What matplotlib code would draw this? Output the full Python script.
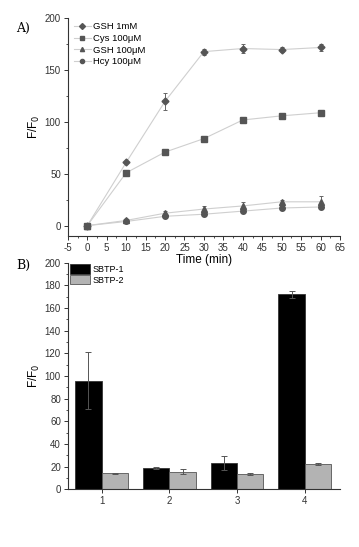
import matplotlib
matplotlib.use("Agg")
import matplotlib.pyplot as plt
from matplotlib.ticker import MultipleLocator
import numpy as np

# panel A: F/F0 over time
time_min = [0, 10, 20, 30, 40, 50, 60]
gsh_1mm = [0, 61, 120, 168, 171, 170, 172]
gsh_1mm_err = [2, 1, 8, 3, 4, 2, 3]
cys_100 = [0, 51, 71, 84, 102, 106, 109]
cys_100_err = [1, 1, 1, 1, 1, 1, 1]
gsh_100 = [0, 5, 12, 16, 19, 23, 23]
gsh_100_err = [1, 1, 2, 3, 4, 2, 6]
hcy_100 = [0, 4, 9, 11, 14, 17, 18]
hcy_100_err = [1, 1, 1, 1, 1, 2, 2]
series_labels = ["GSH 1mM", "Cys 100\u03bcM", "GSH 100\u03bcM", "Hcy 100\u03bcM"]

# panel B: bar groups
groups = ["1", "2", "3", "4"]
sbtp1 = [96, 19, 23, 172]
sbtp1_err = [25, 1, 6, 3]
sbtp2 = [14, 15.5, 13.5, 22]
sbtp2_err = [0.5, 2, 1, 1]

plt.rcParams['font.family'] = ['Liberation Sans', 'DejaVu Sans']
plt.rcParams['axes.unicode_minus'] = False

fig = plt.figure(figsize=(3.59, 5.47), dpi=100)

# ---------- B ---------- (drawn first so A's x label sits on top)
ax2 = fig.add_axes([0.189, 0.1055, 0.758, 0.4143])
ax2.patch.set_alpha(0)
x = np.arange(1, len(groups) + 1)
w = 0.39
ekw = dict(elinewidth=0.7, capsize=2, capthick=0.7, ecolor="#555555")
ax2.bar(x - w / 2, sbtp1, w, yerr=sbtp1_err, color="black", edgecolor="#333333",
        lw=0.6, error_kw=ekw, label="SBTP-1")
ax2.bar(x + w / 2, sbtp2, w, yerr=sbtp2_err, color="#b3b3b3", edgecolor="#555555",
        lw=0.6, error_kw=ekw, label="SBTP-2")
ax2.set_xlim(0.5, 4.52)
ax2.set_ylim(0, 200)
ax2.set_xticks(x)
ax2.set_xticklabels(groups)
ax2.yaxis.set_major_locator(MultipleLocator(20))
ax2.yaxis.set_minor_locator(MultipleLocator(10))
ax2.set_ylabel("F/F$_0$", fontsize=8.5, labelpad=2)
ax2.legend(loc="upper left", fontsize=6.5, frameon=False, handlelength=2.2,
           handleheight=1.2, handletextpad=0.3, labelspacing=0.1,
           borderaxespad=0.1, borderpad=0.1)

# ---------- A ----------
ax1 = fig.add_axes([0.189, 0.5686, 0.758, 0.3976])
ax1.patch.set_alpha(0)
mk = ["D", "s", "^", "o"]
ys = [gsh_1mm, cys_100, gsh_100, hcy_100]
es = [gsh_1mm_err, cys_100_err, gsh_100_err, hcy_100_err]
for y, e, m, lab in zip(ys, es, mk, series_labels):
    ax1.plot(time_min, y, color="#cfcfcf", lw=0.8, zorder=1)
    ax1.errorbar(time_min, y, yerr=e, fmt=m, ms=4 if m != "D" else 3.5,
                 color="#555555", ecolor="#666666", elinewidth=0.7, capsize=1.5,
                 capthick=0.7, zorder=2)
    ax1.plot([], [], color="#cfcfcf", lw=0.8, marker=m, mfc="#555555",
             mec="#555555", ms=3, label=lab)
ax1.set_xlim(-5, 65)
ax1.set_ylim(-10, 200)
ax1.xaxis.set_major_locator(MultipleLocator(5))
ax1.xaxis.set_minor_locator(MultipleLocator(2.5))
ax1.yaxis.set_major_locator(MultipleLocator(50))
ax1.yaxis.set_minor_locator(MultipleLocator(25))
ax1.set_xlabel("Time (min)", fontsize=8.5, labelpad=1)
ax1.set_ylabel("F/F$_0$", fontsize=8.5, labelpad=2)
ax1.legend(loc="upper left", fontsize=6.8, frameon=False, handlelength=1.8,
           handletextpad=0.3, labelspacing=0.3, borderaxespad=0.2,
           bbox_to_anchor=(0.0, 1.01))

for ax in (ax1, ax2):
    ax.spines['top'].set_visible(False)
    ax.spines['right'].set_visible(False)
    for s in ('left', 'bottom'):
        ax.spines[s].set_color("#333333")
        ax.spines[s].set_linewidth(0.8)
    ax.tick_params(labelsize=7, length=3, width=0.7, pad=2, colors="#333333")
    ax.tick_params(which="minor", length=1.5, width=0.6, colors="#333333")
ax2.tick_params(axis="x", which="minor", length=0)

fig.text(0.045, 0.948, "A)", fontsize=9, family="DejaVu Serif", va="center")
fig.text(0.045, 0.515, "B)", fontsize=9, family="DejaVu Serif", va="center")

fig.savefig("out.png", dpi=100)
